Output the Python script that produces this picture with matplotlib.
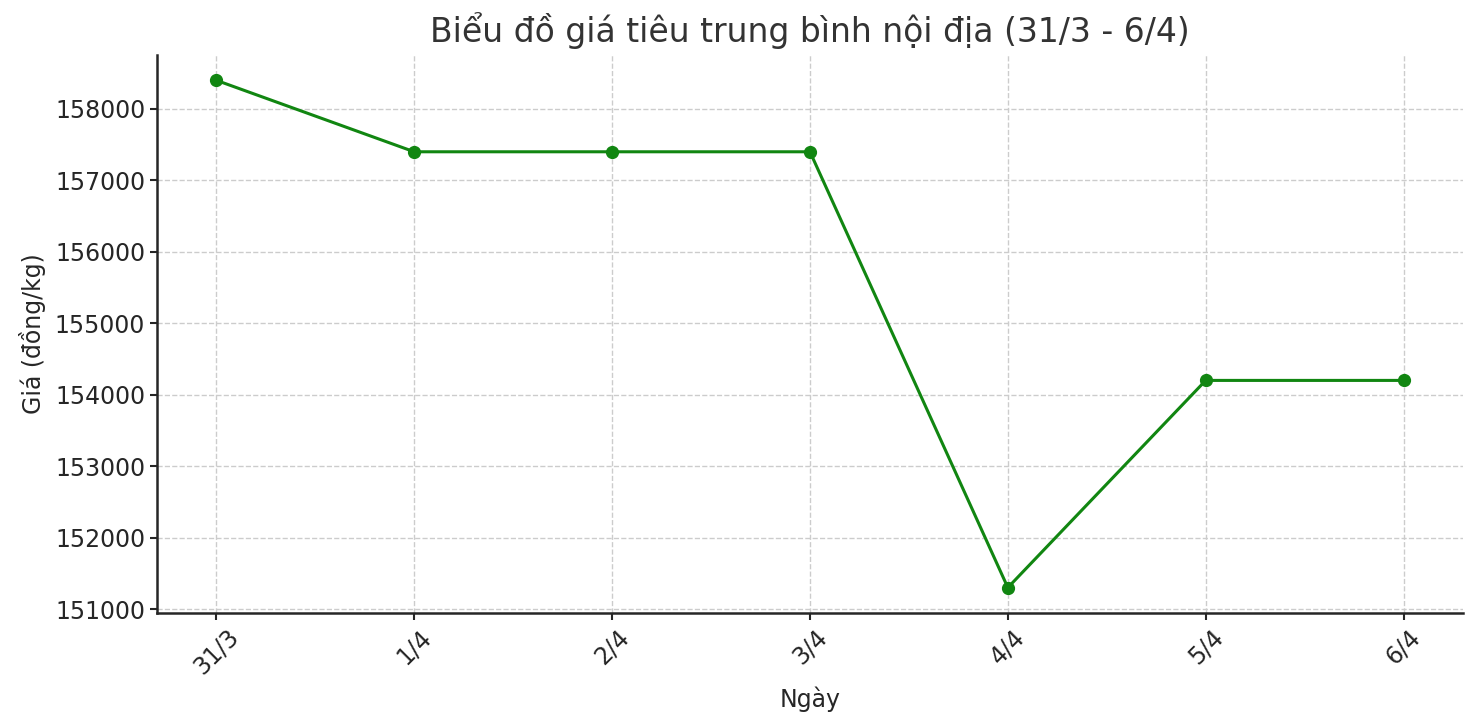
import matplotlib
matplotlib.use("Agg")
import matplotlib.pyplot as plt

# du lieu gia tieu
ngay = ["31/3", "1/4", "2/4", "3/4", "4/4", "5/4", "6/4"]
gia = [158400, 157400, 157400, 157400, 151300, 154200, 154200]

fig, ax = plt.subplots(figsize=(14.7, 7.28), dpi=100)
fig.subplots_adjust(left=0.1068, right=0.9952, bottom=0.158, top=0.9245)

ax.plot(ngay, gia, marker="o", color="#118611", linewidth=2.2, markersize=8.5)

ax.set_title("Biểu đồ giá tiêu trung bình nội địa (31/3 - 6/4)", fontsize=23.8, color="#333333", pad=9)
ax.set_xlabel("Ngày", fontsize=17, color="#262626", labelpad=5)
ax.set_ylabel("Giá (đồng/kg)", fontsize=17, color="#262626", labelpad=6)
ax.tick_params(axis="both", labelsize=17, colors="#262626", length=5, width=1.5)
plt.xticks(rotation=45)

ax.grid(True, linestyle="--", color="#cccccc", linewidth=1)
ax.spines["top"].set_visible(False)
ax.spines["right"].set_visible(False)
for s in ["left", "bottom"]:
    ax.spines[s].set_linewidth(1.8)
    ax.spines[s].set_color("#262626")

plt.savefig("out.png")
